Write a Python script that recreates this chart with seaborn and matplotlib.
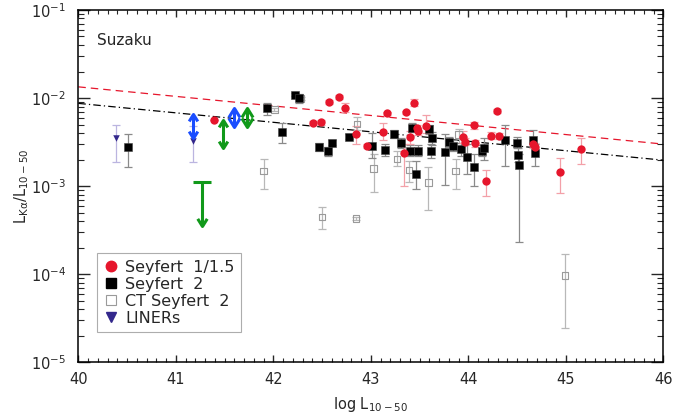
import numpy as np
import pandas as pd
import seaborn as sns
import matplotlib
matplotlib.use("Agg")
import matplotlib.pyplot as plt
from matplotlib.lines import Line2D
from matplotlib.path import Path

# ============ Data ============
# Seyfert 1/1.5 : log L, ratio, lower, upper
sy1_x = [41.39, 42.41, 42.49, 42.57, 42.67, 42.74, 42.85, 42.96, 43.12, 43.17,
         43.34, 43.36, 43.40, 43.44, 43.47, 43.48, 43.57, 43.95, 43.97, 44.06,
         44.07, 44.18, 44.23, 44.29, 44.31, 44.66, 44.68, 44.94, 45.16]
sy1_y = [0.00557, 0.00525, 0.00533, 0.0090, 0.0102, 0.0078, 0.00386, 0.00287, 0.0041, 0.0067,
         0.00237, 0.0069, 0.00357, 0.00885, 0.00452, 0.0042, 0.00484, 0.00363, 0.00318, 0.0049,
         0.00305, 0.00115, 0.00373, 0.0071, 0.0037, 0.00297, 0.0028, 0.00146, 0.00263]
sy1_lo = [0.00557, 0.0050, 0.0049, 0.0086, 0.0097, 0.0069, 0.0030, 0.0027, 0.0033, 0.0064,
          0.0010, 0.0066, 0.0030, 0.0081, 0.0041, 0.0038, 0.0040, 0.0031, 0.0029, 0.0045,
          0.0028, 0.00077, 0.0034, 0.0067, 0.0034, 0.0027, 0.0025, 0.00083, 0.00177]
sy1_hi = [0.00557, 0.0055, 0.0057, 0.0094, 0.0107, 0.0088, 0.0048, 0.0030, 0.0052, 0.0070,
          0.0030, 0.0072, 0.0042, 0.0097, 0.0050, 0.0046, 0.0064, 0.0042, 0.0035, 0.0054,
          0.0033, 0.00151, 0.0041, 0.0075, 0.0040, 0.0033, 0.0031, 0.00211, 0.00348]

# Seyfert 2
sy2_x = [40.51, 41.94, 42.09, 42.22, 42.26, 42.47, 42.56, 42.60, 42.78, 43.01,
         43.15, 43.24, 43.31, 43.40, 43.42, 43.48, 43.46, 43.60, 43.63, 43.62,
         43.76, 43.80, 43.84, 43.93, 43.99, 44.06, 44.14, 44.16, 44.38, 44.50,
         44.51, 44.52, 44.66, 44.68]
sy2_y = [0.00275, 0.00776, 0.00407, 0.0109, 0.0099, 0.0028, 0.00248, 0.0031, 0.00363, 0.00285,
         0.00257, 0.00386, 0.0031, 0.00251, 0.00459, 0.0025, 0.00137, 0.0044, 0.00348, 0.00252,
         0.00245, 0.00314, 0.00287, 0.00263, 0.00215, 0.00166, 0.00252, 0.00268, 0.00333, 0.0031,
         0.00225, 0.00172, 0.00333, 0.0024]
sy2_lo = [0.00163, 0.0065, 0.00305, 0.0105, 0.0088, 0.0025, 0.0022, 0.0029, 0.0034, 0.0021,
          0.0022, 0.0035, 0.0027, 0.0022, 0.0041, 0.0022, 0.00093, 0.0039, 0.0029, 0.0021,
          0.00104, 0.0028, 0.0025, 0.0022, 0.00137, 0.0010, 0.0022, 0.0020, 0.0017, 0.0027,
          0.0019, 0.00023, 0.0028, 0.0017]
sy2_hi = [0.00386, 0.0089, 0.0052, 0.0113, 0.0112, 0.0031, 0.0028, 0.0033, 0.0039, 0.0040,
          0.0030, 0.0043, 0.0035, 0.0029, 0.0052, 0.0029, 0.00195, 0.0050, 0.0041, 0.0030,
          0.0039, 0.0036, 0.0033, 0.0031, 0.0030, 0.0023, 0.0029, 0.0035, 0.0050, 0.0036,
          0.0027, 0.0023, 0.0043, 0.0030]

# Compton-thick Seyfert 2
ct_x = [41.90, 42.01, 42.28, 42.50, 42.85, 42.86, 43.03, 43.27, 43.39, 43.59, 43.87, 43.90, 44.99]
ct_y = [0.00148, 0.00745, 0.0099, 0.000445, 0.00043, 0.0051, 0.00158, 0.00204, 0.00152, 0.0011,
        0.00148, 0.00386, 0.0000966]
ct_lo = [0.00092, 0.0071, 0.0094, 0.00033, 0.00041, 0.0043, 0.00085, 0.0017, 0.0011, 0.00053,
         0.00093, 0.0031, 0.0000243]
ct_hi = [0.00201, 0.0078, 0.0104, 0.000585, 0.00045, 0.0061, 0.0023, 0.0025, 0.00193, 0.00166,
         0.00201, 0.0045, 0.000169]

# LINERs
lin_x = [40.39, 41.18]
lin_y = [0.00348, 0.00324]
lin_lo = [0.00189, 0.0019]
lin_hi = [0.00493, 0.0048]

# ranges (double arrows) and upper limit
range_x = [41.18, 41.48, 41.60, 41.73]
range_lo = [0.00355, 0.0027, 0.0047, 0.0047]
range_hi = [0.0066, 0.0057, 0.0077, 0.0078]
range_col = ['#1a4dff', '#11991a', '#1a4dff', '#11991a']
range_head = [10, 10, 13, 13]
ul_x = [41.27]
ul_top = [0.0011]
ul_tip = [0.00035]

# fits
fit_x = [40, 46]
fit_sy1 = [0.0134, 0.0030]
fit_all = [0.0087, 0.00197]

# ============ Style ============
sns.set_style("white")
plt.rcParams['font.family'] = ['DejaVu Sans']
plt.rcParams['mathtext.default'] = 'regular'

RED = '#e6162c'
RED_ERR = '#f3a0a8'
GRAY_ERR = '#8a8a8a'
CT_COL = '#9a9a9a'
CT_ERR = '#b8b8b8'
LIN_COL = '#33288c'
LIN_ERR = '#bbb5e0'
GREEN = '#11991a'

# open chevron arrow heads, tip at the marker position
code3 = [Path.MOVETO, Path.LINETO, Path.LINETO]
HEAD_UP = Path([(-0.62, -1), (0, 0), (0.62, -1)], code3)
HEAD_DOWN = Path([(-0.62, 1), (0, 0), (0.62, 1)], code3)

fig = plt.figure(figsize=(6.73, 4.15), dpi=100)
ax = fig.add_axes([0.1164, 0.127, 0.8692, 0.849])


def yerr(y, lo, hi):
    y = np.asarray(y)
    return [y - np.asarray(lo), np.asarray(hi) - y]


eb = dict(fmt='none', elinewidth=0.9, capsize=3, capthick=0.9, zorder=2)
ax.errorbar(lin_x, lin_y, yerr=yerr(lin_y, lin_lo, lin_hi), ecolor=LIN_ERR, **eb)
ax.errorbar(ct_x, ct_y, yerr=yerr(ct_y, ct_lo, ct_hi), ecolor=CT_ERR, **eb)
ax.errorbar(sy2_x, sy2_y, yerr=yerr(sy2_y, sy2_lo, sy2_hi), ecolor=GRAY_ERR, **eb)
ax.errorbar(sy1_x, sy1_y, yerr=yerr(sy1_y, sy1_lo, sy1_hi), ecolor=RED_ERR, **eb)

# fit lines
ax.plot(fit_x, fit_sy1, color=RED, lw=0.9, dashes=(6, 4), zorder=1)
ax.plot(fit_x, fit_all, color='black', lw=0.9, dashes=(6, 2.5, 1, 2.5), zorder=1)

# points
sns.scatterplot(x=ct_x, y=ct_y, marker='s', s=22, facecolors='none', edgecolors=CT_COL,
                linewidth=0.8, ax=ax, zorder=3)
sns.scatterplot(x=sy2_x, y=sy2_y, marker='s', s=34, color='black', edgecolor='#444444',
                linewidth=0.4, ax=ax, zorder=4)
sns.scatterplot(x=sy1_x, y=sy1_y, marker='o', s=36, color=RED, edgecolor=RED,
                linewidth=0, ax=ax, zorder=5)
sns.scatterplot(x=lin_x, y=lin_y, marker='v', s=22, color=LIN_COL, edgecolor=LIN_COL,
                linewidth=0, ax=ax, zorder=5)

# double arrows: shaft + two open heads
for x, lo, hi, col, ms in zip(range_x, range_lo, range_hi, range_col, range_head):
    ax.vlines(x, lo, hi, color=col, lw=2.2, zorder=6)
    ax.plot([x], [hi], marker=HEAD_UP, ms=ms, mfc='none', mec=col, mew=2.2, zorder=6)
    ax.plot([x], [lo], marker=HEAD_DOWN, ms=ms, mfc='none', mec=col, mew=2.2, zorder=6)

# upper limit
for x, top, tip in zip(ul_x, ul_top, ul_tip):
    ax.vlines(x, tip, top, color=GREEN, lw=2.2, zorder=6)
    ax.plot([x], [top], marker='_', markersize=13, mew=2.2, color=GREEN, zorder=6)
    ax.plot([x], [tip], marker=HEAD_DOWN, ms=11, mfc='none', mec=GREEN, mew=2.2, zorder=6)

# ============ Axes ============
ax.set_yscale('log')
ax.set_xlim(40, 46)
ax.set_ylim(1e-5, 1e-1)
ax.set_xticks([40, 41, 42, 43, 44, 45, 46])
ax.xaxis.set_minor_locator(matplotlib.ticker.MultipleLocator(0.1))
ax.yaxis.set_minor_locator(matplotlib.ticker.LogLocator(base=10, subs=np.arange(2, 10)))
ax.yaxis.set_minor_formatter(matplotlib.ticker.NullFormatter())
ax.tick_params(axis='x', which='major', direction='in', length=5, width=1,
               bottom=True, top=True, labelsize=10.5, pad=7)
ax.tick_params(axis='x', which='minor', direction='in', length=3, width=0.8,
               bottom=True, top=True)
ax.tick_params(axis='y', which='major', direction='in', length=8.5, width=1,
               left=True, right=True, labelsize=10.5, pad=9)
ax.tick_params(axis='y', which='minor', direction='in', length=4.5, width=0.8,
               left=True, right=True)
for sp in ax.spines.values():
    sp.set_color('black')
    sp.set_linewidth(1.1)

ax.set_xlabel('log L$_{10-50}$', fontsize=10.5, labelpad=6)
ax.set_ylabel(r'L$_{K\alpha}$/L$_{10-50}$', fontsize=10.5, labelpad=0)
ax.text(0.032, 0.912, 'Suzaku', transform=ax.transAxes, fontsize=11, va='center')

handles = [
    Line2D([], [], ls='none', marker='o', ms=7.5, color=RED, mec=RED),
    Line2D([], [], ls='none', marker='s', ms=7, color='black'),
    Line2D([], [], ls='none', marker='s', ms=7, mfc='none', mec=CT_COL, mew=0.8),
    Line2D([], [], ls='none', marker='v', ms=7, color=LIN_COL),
]
labels = ['Seyfert  1/1.5', 'Seyfert  2', 'CT Seyfert  2', 'LINERs']
leg = ax.legend(handles, labels, loc='lower left', bbox_to_anchor=(0.032, 0.086),
                borderaxespad=0, fontsize=11.5, frameon=True, fancybox=False,
                handlelength=1.0, handletextpad=0.35, labelspacing=0.12,
                borderpad=0.4, edgecolor='#999999')
leg.get_frame().set_linewidth(0.8)

fig.savefig('out.png', dpi=100)
